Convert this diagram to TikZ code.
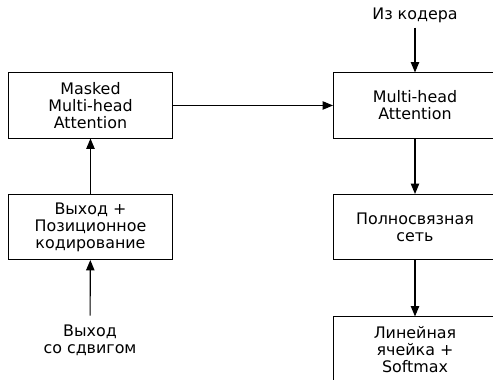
\documentclass[tikz,border=0pt]{standalone}
\usepackage{fontspec}
\setmainfont{DejaVu Sans}
\usetikzlibrary{arrows.meta}

\begin{document}
\begin{tikzpicture}[
  thick,  block/.style={rectangle,draw,semithick,minimum width=4.08cm,minimum height=1.63cm,align=center,font=\fontsize{11.3}{12}\selectfont},  label/.style={align=center,font=\fontsize{11.3}{12}\selectfont},  link/.style={-{Triangle[length=2.6mm,width=2.1mm]}}
]
  \useasboundingbox (0,0) rectangle (12.325,-9.5);
  \clip (0,0) rectangle (12.325,-9.5);
  \node[block] (mask) at (2.262,-2.637) {Masked\\Multi-head\\Attention};
  \node[block] (pos) at (2.262,-5.675) {Выход +\\Позиционное\\кодирование};
  \node[label,inner sep=6pt] (inp) at (2.250,-8.500) {Выход\\со сдвигом};
  \node[block] (attn) at (10.375,-2.637) {Multi-head\\Attention};
  \node[block] (ffn) at (10.375,-5.675) {Полносвязная\\сеть};
  \node[block] (lin) at (10.375,-8.737) {Линейная\\ячейка +\\Softmax};
  \node[label] (enc) at (10.375,-0.375) {Из кодера};
  \draw[link] (inp) -- (pos);
  \draw[link] (pos) -- (mask);
  \draw[link] (mask) -- (attn);
  \draw[link] (enc) -- (attn);
  \draw[link] (attn) -- (ffn);
  \draw[link] (ffn) -- (lin);
\end{tikzpicture}
\end{document}
